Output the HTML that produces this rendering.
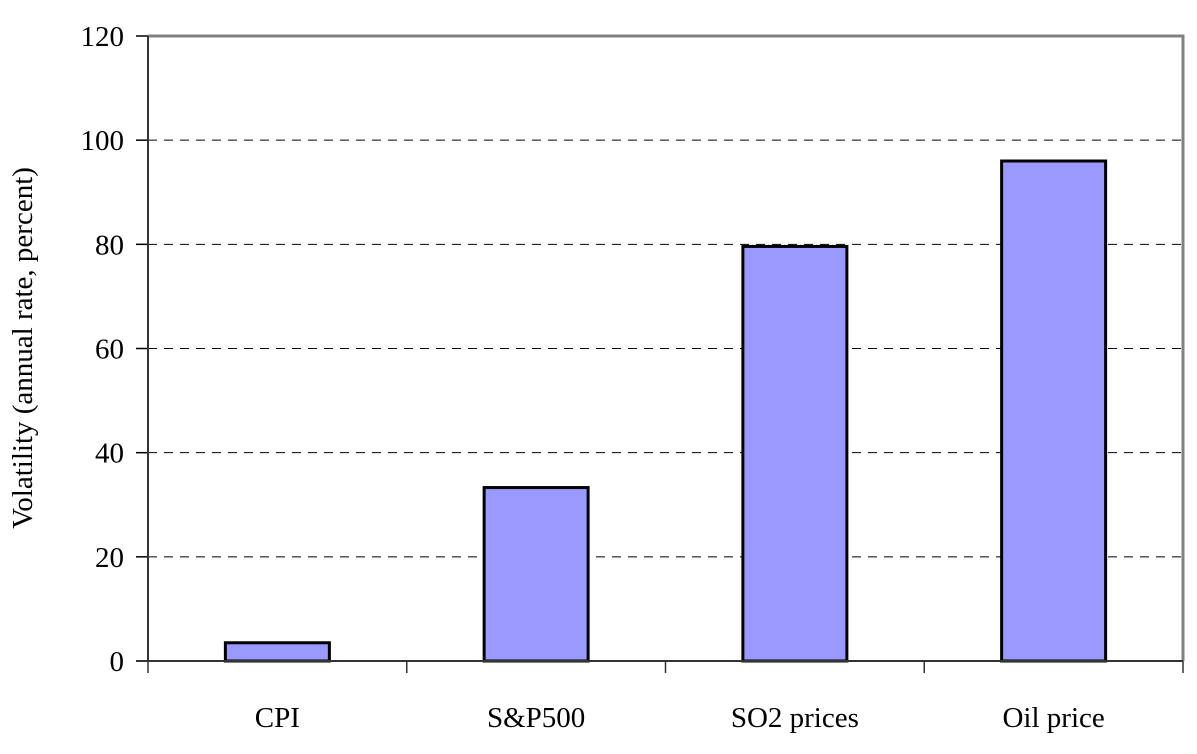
<!DOCTYPE html>
<html><head><meta charset="utf-8"><style>
body{margin:0;background:#fff;width:1197px;height:749px;overflow:hidden}
svg text{font-family:"Liberation Serif",serif;fill:#000}
</style></head><body>
<svg id="chart" width="1197" height="749" xmlns="http://www.w3.org/2000/svg">
<g id="grid"></g><g id="bars"></g><g id="axes"></g>
<text transform="translate(32,348) rotate(-90)" text-anchor="middle" font-size="29">Volatility (annual rate, percent)</text>
</svg>
<script>
const categories=["CPI","S&P500","SO2 prices","Oil price"];
const values=[3.5,33.3,79.6,96];
const yTicks=[0,20,40,60,80,100,120];
const L=148,R=1183,T=36,B=661,yMax=120;
const NS="http://www.w3.org/2000/svg";
const y=v=>B-(v/yMax)*(B-T);
const slot=(R-L)/categories.length;
const x=i=>L+slot*(i+0.5);
function mk(tag,attrs,parent,txt){const e=document.createElementNS(NS,tag);for(const k in attrs)e.setAttribute(k,attrs[k]);if(txt!==undefined)e.textContent=txt;document.getElementById(parent).appendChild(e);return e;}
yTicks.forEach(t=>{
  if(t>0&&t<yMax){const g=mk("line",{x1:L,x2:R,y1:y(t),y2:y(t),stroke:"#000","stroke-width":1,"stroke-dasharray":"9,7"},"grid");
  
  }
  const tk=mk("line",{x1:L-12,x2:L,y1:y(t),y2:y(t),stroke:"#000","stroke-width":1.5},"axes");
  
  
  const lb=mk("text",{x:L-24,y:y(t)+10,"text-anchor":"end","font-size":29},"axes",String(t));
  
  
});
const frame=mk("path",{d:`M${L},${T}H${R}V${B}`,fill:"none",stroke:"#808080","stroke-width":3},"axes");


const ya=mk("line",{x1:L,x2:L,y1:T,y2:B,stroke:"#333","stroke-width":2},"axes");


const xa=mk("line",{x1:L-12,x2:R,y1:B,y2:B,stroke:"#333","stroke-width":2},"axes");


for(let i=0;i<=categories.length;i++){
  const tk=mk("line",{x1:L+slot*i,x2:L+slot*i,y1:B,y2:B+12,stroke:"#333","stroke-width":1.5},"axes");
  
  
}
const bw=104;
categories.forEach((c,i)=>{
  const b=mk("rect",{x:x(i)-bw/2,y:y(values[i]),width:bw,height:B-y(values[i]),fill:"#9999ff",stroke:"#000","stroke-width":3},"bars");
  
  
  const lb=mk("text",{x:x(i),y:727,"text-anchor":"middle","font-size":29},"axes",c);
  
  
});
</script>
</body></html>
